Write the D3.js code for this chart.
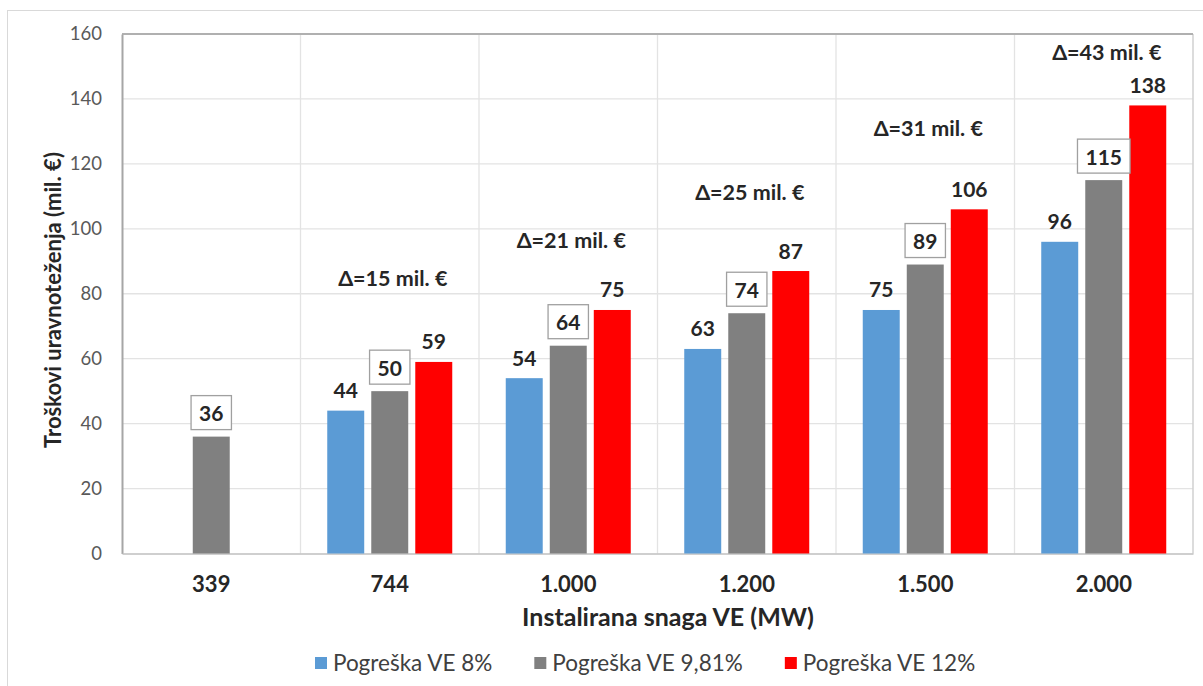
<!DOCTYPE html>
<html><head><meta charset="utf-8">
<script src="https://cdnjs.cloudflare.com/ajax/libs/d3/7.8.5/d3.min.js"></script>
<style>body{margin:0;background:#fff;} text{font-family:Lato, "Open Sans", sans-serif;}</style>
</head><body>
<svg id="c" width="1203" height="686"></svg>
<script>
const categories = ["339", "744", "1.000", "1.200", "1.500", "2.000"];
const seriesNames = ["Pogreška VE 8%", "Pogreška VE 9,81%", "Pogreška VE 12%"];
const blueVals = [null, 44, 54, 63, 75, 96];
const grayVals = [36, 50, 64, 74, 89, 115];
const redVals = [null, 59, 75, 87, 106, 138];
const deltaLabels = [null, "Δ=15 mil. €", "Δ=21 mil. €", "Δ=25 mil. €", "Δ=31 mil. €", "Δ=43 mil. €"];
const deltaLevels = [null, 84.8, 96.5, 111.3, 131, 154.4];
const yTicks = [0, 20, 40, 60, 80, 100, 120, 140, 160];
const colors = ["#5b9bd5", "#808080", "#ff0000"];

const svg = d3.select("#c");
const L = 122, R = 1193, T = 34, B = 553.5;

// outer frame
svg.append("rect").attr("x", 7.5).attr("y", 10.5).attr("width", 1200).attr("height", 690)
  .attr("fill", "none").attr("stroke", "#d9d9d9");

const x = d3.scaleBand().domain(categories).range([L, R]).padding(0);
const y = d3.scaleLinear().domain([0, 160]).range([B, T]);
const inner = d3.scaleBand().domain([0, 1, 2]).range([-62.5, 62.5]).paddingInner(0.16).paddingOuter(0);

// horizontal grid
svg.append("g").selectAll("line").data(yTicks.slice(1)).join("line")
  .attr("x1", L).attr("x2", R).attr("y1", d => y(d)).attr("y2", d => y(d))
  .attr("stroke", "#e3e3e3").attr("stroke-width", 1.3);
// vertical grid
svg.append("g").selectAll("line").data(categories.slice(1)).join("line")
  .attr("x1", d => x(d)).attr("x2", d => x(d)).attr("y1", T).attr("y2", B)
  .attr("stroke", "#e3e3e3").attr("stroke-width", 1.3);
// right border
svg.append("line").attr("x1", R).attr("x2", R).attr("y1", T).attr("y2", B).attr("stroke", "#d0d0d0").attr("stroke-width", 1.5);
// top border
svg.append("line").attr("x1", L).attr("x2", R).attr("y1", T).attr("y2", T).attr("stroke", "#b0b0b0").attr("stroke-width", 2);

// y axis
const yAxis = d3.axisLeft(y).tickValues(yTicks).tickSize(0).tickPadding(20);
const gy = svg.append("g").attr("transform", `translate(${L},0)`).call(yAxis);
gy.select(".domain").attr("stroke", "#a6a6a6").attr("stroke-width", 2);
gy.selectAll("text").attr("fill", "#595959").attr("font-size", 18.5);

// x axis
const xAxis = d3.axisBottom(x).tickSize(0).tickPadding(23);
const gx = svg.append("g").attr("transform", `translate(0,${B})`).call(xAxis);
gx.select(".domain").attr("stroke", "#bfbfbf").attr("stroke-width", 1.5);
gx.selectAll("text").attr("fill", "#262626").attr("font-size", 22).attr("font-weight", "bold");

// bars
const seriesVals = [blueVals, grayVals, redVals];
const bars = [];
seriesVals.forEach((vals, si) => vals.forEach((v, ci) => { if (v != null) bars.push({si, ci, v}); }));
const bx = d => x(categories[d.ci]) + x.bandwidth() / 2 + (categories[d.ci] === "339" ? -inner.bandwidth() / 2 : inner(d.si));
svg.append("g").selectAll("rect").data(bars).join("rect")
  .attr("x", bx).attr("y", d => y(d.v)).attr("width", inner.bandwidth()).attr("height", d => B - y(d.v))
  .attr("fill", d => colors[d.si]);

// value labels
const lab = svg.append("g");
bars.forEach(d => {
  const cx = bx(d) + inner.bandwidth() / 2;
  if (d.si === 1) {
    const t = lab.append("text").attr("x", cx).attr("y", y(d.v) - 24).attr("text-anchor", "middle")
      .attr("dominant-baseline", "central").attr("font-size", 21).attr("font-weight", "bold").attr("fill", "#262626").text(d.v);
    const w = t.node().getComputedTextLength();
    lab.insert("rect", "text").attr("x", cx - w / 2 - 8).attr("y", y(d.v) - 41).attr("width", w + 16).attr("height", 34)
      .attr("fill", "#fff").attr("stroke", "#a0a0a0").attr("stroke-width", 1.3);
  } else {
    lab.append("text").attr("x", cx).attr("y", y(d.v) - 21).attr("text-anchor", "middle")
      .attr("dominant-baseline", "central").attr("font-size", 21).attr("font-weight", "bold").attr("fill", "#262626").text(d.v);
  }
});
lab.selectAll("text").raise();

// delta annotations
svg.append("g").selectAll("text").data(categories.map((c, i) => ({c, t: deltaLabels[i], v: deltaLevels[i]})).filter(d => d.t))
  .join("text").attr("x", d => x(d.c) + x.bandwidth() / 2 + 3).attr("y", d => y(d.v))
  .attr("text-anchor", "middle").attr("dominant-baseline", "central")
  .attr("font-size", 21.5).attr("font-weight", "bold").attr("fill", "#262626").text(d => d.t);

// axis titles
svg.append("text").attr("x", 668).attr("y", 616).attr("text-anchor", "middle").attr("dominant-baseline", "central")
  .attr("font-size", 25).attr("font-weight", "bold").attr("fill", "#262626").text("Instalirana snaga VE (MW)");
svg.append("text").attr("transform", `translate(52,300) rotate(-90)`).attr("text-anchor", "middle")
  .attr("dominant-baseline", "central").attr("font-size", 22).attr("font-weight", "bold").attr("fill", "#262626")
  .text("Troškovi uravnoteženja (mil. €)");

// legend
const lg = svg.append("g");
let lx = 315;
seriesNames.forEach((n, i) => {
  lg.append("rect").attr("x", lx).attr("y", 657).attr("width", 12).attr("height", 12).attr("fill", colors[i]);
  const t = lg.append("text").attr("x", lx + 18).attr("y", 662).attr("dominant-baseline", "central")
    .attr("font-size", 22.5).attr("fill", "#404040").text(n);
  lx += 18 + t.node().getComputedTextLength() + 42;
});
</script>
</body></html>
